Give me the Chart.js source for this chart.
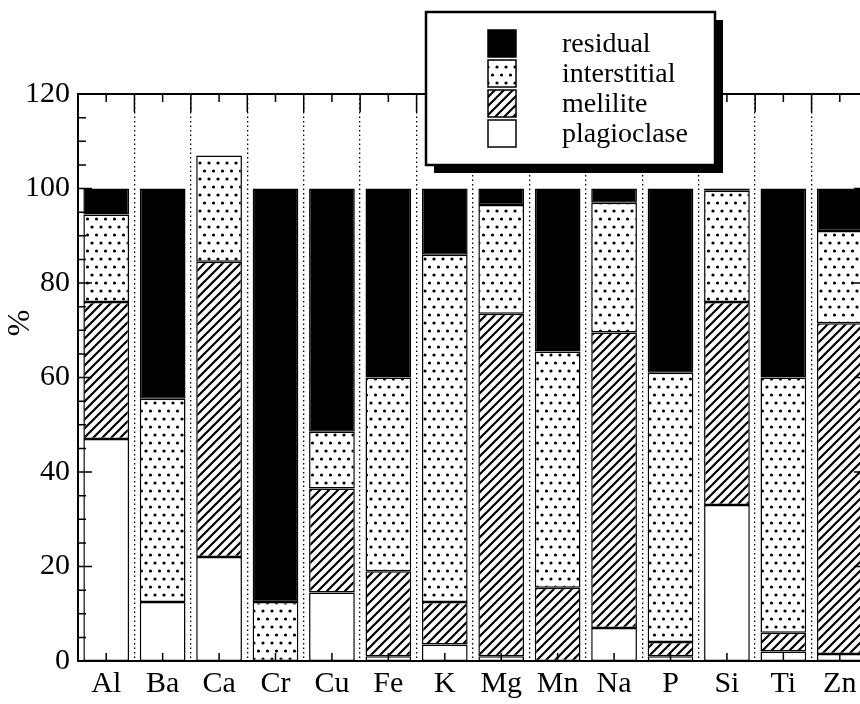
<!DOCTYPE html>
<html>
<head>
<meta charset="utf-8">
<script src="https://cdn.jsdelivr.net/npm/chart.js@4/dist/chart.umd.min.js"></script>
<style>
  html, body { margin: 0; padding: 0; background: #fff; overflow: hidden; }
  #wrap { position: absolute; left: 0; top: 0; width: 872px; height: 704px; }
</style>
</head>
<body>
<div id="wrap"><canvas id="chart"></canvas></div>
<script>
const categories = ['Al', 'Ba', 'Ca', 'Cr', 'Cu', 'Fe', 'K', 'Mg', 'Mn', 'Na', 'P', 'Si', 'Ti', 'Zn'];
const plagioclase = [47, 12.5, 22, 0, 14.5, 1, 3.5, 1, 0, 7, 1, 33, 2, 1.5];
const melilite = [29, 0, 62.5, 0, 22, 18, 9, 72.5, 15.5, 62.5, 3, 43, 4, 70];
const interstitial = [18.5, 43, 22.5, 12.5, 12, 41, 73.5, 23, 50, 27.5, 57, 23.5, 54, 19.5];
const residual = [5.5, 44.5, 0, 87.5, 51.5, 40, 14, 3.5, 34.5, 3, 39, 0.5, 40, 9];
const yTicks = [0, 20, 40, 60, 80, 100, 120];
const legendOrder = ['residual', 'interstitial', 'melilite', 'plagioclase'];

const FONT = '"Liberation Serif", "DejaVu Serif", serif';

// fill patterns
const makeTile = (w, h, draw) => {
    const c = document.createElement('canvas');
    c.width = w; c.height = h;
    const g = c.getContext('2d');
    g.fillStyle = '#fff';
    g.fillRect(0, 0, w, h);
    draw(g, w, h);
    return document.createElement('canvas').getContext('2d').createPattern(c, 'repeat');
};
const dots = makeTile(9, 16, (g) => {
    g.fillStyle = '#000';
    [[2, 3], [6.5, 11]].forEach(([x, y]) => { g.beginPath(); g.arc(x, y, 1.6, 0, Math.PI * 2); g.fill(); });
});
const hatch = makeTile(9, 9, (g, w, h) => {
    g.strokeStyle = '#000';
    g.lineWidth = 2.2;
    g.beginPath();
    g.moveTo(0, h); g.lineTo(w, 0);
    g.moveTo(-2, 2); g.lineTo(2, -2);
    g.moveTo(w - 2, h + 2); g.lineTo(w + 2, h - 2);
    g.stroke();
});

const frame = {
    id: 'frame',
    afterDatasetsDraw(chart) {
        const { ctx, chartArea: a, scales: { x, y } } = chart;
        ctx.save();
        ctx.strokeStyle = '#000';
        ctx.lineWidth = 1.5;
        ctx.beginPath();
        for (let v = 0; v <= 120; v += 5) {
            const py = y.getPixelForValue(v);
            const len = v % 20 === 0 ? 14 : 8;
            ctx.moveTo(a.left, py); ctx.lineTo(a.left + len, py);
            ctx.moveTo(a.right, py); ctx.lineTo(a.right - len, py);
        }
        categories.forEach((c, i) => {
            const px = x.getPixelForValue(i);
            ctx.moveTo(px, a.top); ctx.lineTo(px, a.top + 8);
            ctx.moveTo(px, a.bottom); ctx.lineTo(px, a.bottom - 8);
            if (i > 0) {
                const bx = (px + x.getPixelForValue(i - 1)) / 2;
                ctx.moveTo(bx, a.top); ctx.lineTo(bx, a.top + 18);
            }
        });
        ctx.stroke();
        ctx.lineWidth = 2;
        ctx.strokeRect(a.left, a.top, a.right - a.left, a.bottom - a.top);

        // y title
        ctx.fillStyle = '#000';
        ctx.font = '32px ' + FONT;
        ctx.translate(21, 323);
        ctx.rotate(-Math.PI / 2);
        ctx.textAlign = 'center';
        ctx.textBaseline = 'middle';
        ctx.fillText('%', 0, 0);
        ctx.restore();
    },
    afterDraw(chart) {
        const { ctx } = chart;
        const bx = 426, by = 12, bw = 289, bh = 153;
        ctx.save();
        ctx.fillStyle = '#000';
        ctx.fillRect(bx + 8, by + 8, bw, bh);
        ctx.fillStyle = '#fff';
        ctx.fillRect(bx, by, bw, bh);
        ctx.strokeStyle = '#000';
        ctx.lineWidth = 2.5;
        ctx.strokeRect(bx, by, bw, bh);
        ctx.font = '28px ' + FONT;
        ctx.textBaseline = 'alphabetic';
        legendOrder.forEach((name, i) => {
            const ds = chart.data.datasets.find(d => d.label === name);
            const sy = 30 + i * 30;
            ctx.fillStyle = ds.backgroundColor;
            ctx.fillRect(488, sy, 28, 27);
            ctx.lineWidth = 1.5;
            ctx.strokeRect(488, sy, 28, 27);
            ctx.fillStyle = '#000';
            ctx.fillText(name, 562, sy + 22);
        });
        ctx.restore();
    }
};

const bar = (label, data, fill) => ({
    label, data,
    backgroundColor: fill,
    borderColor: '#000',
    borderWidth: 1.5,
    borderSkipped: false,
    barPercentage: 0.81,
    categoryPercentage: 1
});

new Chart(document.getElementById('chart'), {
    type: 'bar',
    data: {
        labels: categories,
        datasets: [
            bar('plagioclase', plagioclase, '#fff'),
            bar('melilite', melilite, hatch),
            bar('interstitial', interstitial, dots),
            bar('residual', residual, '#000')
        ]
    },
    options: {
        responsive: true, maintainAspectRatio: false, animation: false,
        layout: { padding: { top: 94, right: 4, left: 0, bottom: 0 } },
        plugins: { legend: { display: false }, tooltip: { enabled: false } },
        scales: {
            x: {
                stacked: true,
                grid: { display: true, offset: true, color: '#000', lineWidth: 1.3, drawTicks: false },
                border: { display: true, color: '#000', width: 2, dash: [1.5, 3] },
                ticks: { color: '#000', font: { family: FONT, size: 30 }, padding: 5, maxRotation: 0 },
                afterFit: (s) => { s.height = 43; }
            },
            y: {
                stacked: true, min: 0, max: 120,
                afterBuildTicks: (s) => { s.ticks = yTicks.map(v => ({ value: v })); },
                grid: { display: false, drawTicks: false },
                border: { display: true, color: '#000', width: 2 },
                ticks: { color: '#000', font: { family: FONT, size: 30 }, padding: 8 },
                afterFit: (s) => { s.width = 78; }
            }
        }
    },
    plugins: [frame]
});
</script>
</body>
</html>
